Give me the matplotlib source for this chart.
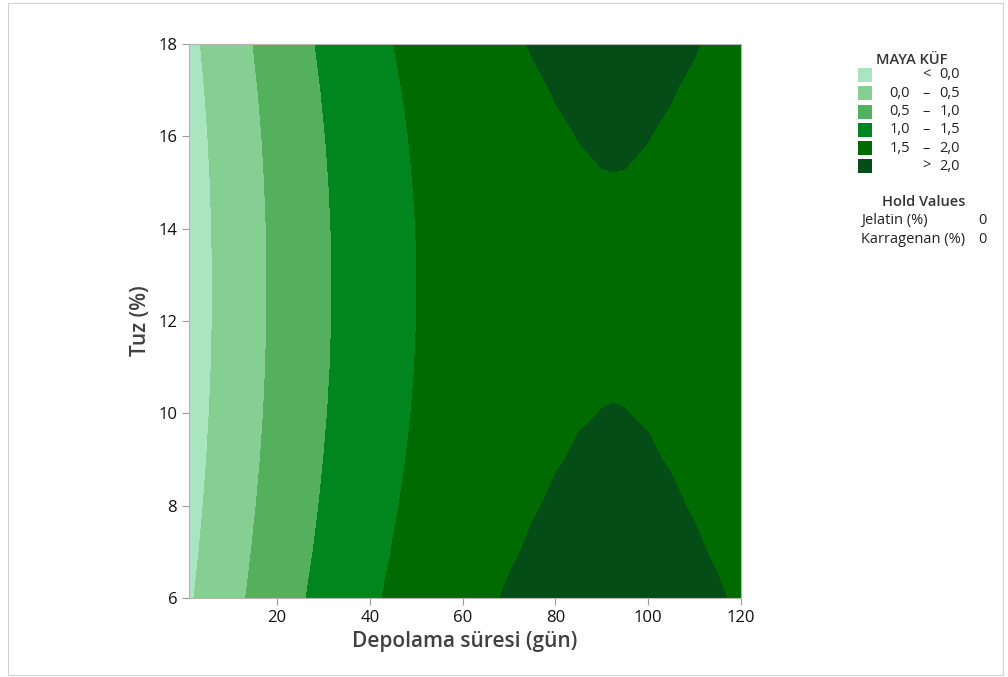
import matplotlib
matplotlib.use('Agg')
import numpy as np
import matplotlib.pyplot as plt
from matplotlib.patches import Rectangle

plt.rcParams['font.family'] = ['Open Sans', 'DejaVu Sans']

# storage time (days) and salt (%) grid, MAYA KÜF response
depolama = [0, 5, 10, 15, 20, 25, 30, 35, 40, 45, 50, 55, 60,
            65, 70, 75, 80, 85, 90, 92.5, 95, 100, 105, 110, 115, 120]
tuz = [6, 7, 8, 9, 10, 11, 12, 13, 14, 15, 16, 17, 18]
maya_kuf = [
    [-0.098, 0.139, 0.364, 0.575, 0.773, 0.957, 1.129, 1.287, 1.432, 1.564, 1.683, 1.789, 1.881,
     1.960, 2.026, 2.079, 2.118, 2.145, 2.158, 2.160, 2.158, 2.145, 2.118, 2.079, 2.026, 1.960],
    [-0.149, 0.088, 0.312, 0.524, 0.721, 0.906, 1.078, 1.236, 1.381, 1.513, 1.632, 1.737, 1.830,
     1.909, 1.975, 2.027, 2.067, 2.093, 2.107, 2.108, 2.107, 2.093, 2.067, 2.027, 1.975, 1.909],
    [-0.192, 0.045, 0.270, 0.481, 0.678, 0.863, 1.035, 1.193, 1.338, 1.470, 1.589, 1.694, 1.787,
     1.866, 1.932, 1.985, 2.024, 2.051, 2.064, 2.065, 2.064, 2.051, 2.024, 1.985, 1.932, 1.866],
    [-0.227, 0.010, 0.235, 0.446, 0.644, 0.828, 1.000, 1.158, 1.303, 1.435, 1.554, 1.660, 1.752,
     1.831, 1.897, 1.950, 1.989, 2.016, 2.029, 2.031, 2.029, 2.016, 1.989, 1.950, 1.897, 1.831],
    [-0.254, -0.016, 0.208, 0.419, 0.617, 0.802, 0.973, 1.132, 1.277, 1.409, 1.527, 1.633, 1.725,
     1.804, 1.870, 1.923, 1.963, 1.989, 2.002, 2.004, 2.002, 1.989, 1.963, 1.923, 1.870, 1.804],
    [-0.272, -0.035, 0.190, 0.401, 0.599, 0.783, 0.955, 1.113, 1.258, 1.390, 1.509, 1.615, 1.707,
     1.786, 1.852, 1.905, 1.944, 1.971, 1.984, 1.986, 1.984, 1.971, 1.944, 1.905, 1.852, 1.786],
    [-0.282, -0.045, 0.180, 0.391, 0.589, 0.773, 0.945, 1.103, 1.248, 1.380, 1.499, 1.605, 1.697,
     1.776, 1.842, 1.895, 1.934, 1.961, 1.974, 1.976, 1.974, 1.961, 1.934, 1.895, 1.842, 1.776],
    [-0.284, -0.047, 0.178, 0.389, 0.587, 0.771, 0.943, 1.101, 1.246, 1.378, 1.497, 1.603, 1.695,
     1.774, 1.840, 1.893, 1.932, 1.959, 1.972, 1.974, 1.972, 1.959, 1.932, 1.893, 1.840, 1.774],
    [-0.278, -0.040, 0.184, 0.395, 0.593, 0.778, 0.949, 1.108, 1.253, 1.385, 1.503, 1.609, 1.701,
     1.780, 1.846, 1.899, 1.939, 1.965, 1.978, 1.980, 1.978, 1.965, 1.939, 1.899, 1.846, 1.780],
    [-0.263, -0.026, 0.199, 0.410, 0.608, 0.792, 0.964, 1.122, 1.267, 1.399, 1.518, 1.624, 1.716,
     1.795, 1.861, 1.914, 1.953, 1.980, 1.993, 1.995, 1.993, 1.980, 1.953, 1.914, 1.861, 1.795],
    [-0.240, -0.003, 0.222, 0.433, 0.630, 0.815, 0.987, 1.145, 1.290, 1.422, 1.541, 1.646, 1.739,
     1.818, 1.884, 1.937, 1.976, 2.003, 2.016, 2.017, 2.016, 2.003, 1.976, 1.937, 1.884, 1.818],
    [-0.207, 0.030, 0.255, 0.466, 0.664, 0.848, 1.020, 1.178, 1.323, 1.455, 1.574, 1.680, 1.772,
     1.851, 1.917, 1.970, 2.009, 2.036, 2.049, 2.051, 2.049, 2.036, 2.009, 1.970, 1.917, 1.851],
    [-0.164, 0.073, 0.298, 0.509, 0.707, 0.891, 1.063, 1.221, 1.366, 1.498, 1.617, 1.723, 1.815,
     1.894, 1.960, 2.013, 2.052, 2.079, 2.092, 2.094, 2.092, 2.079, 2.052, 2.013, 1.960, 1.894],
]

levels = [-1.0, 0.0, 0.5, 1.0, 1.5, 2.0, 3.0]
band_colors = ['#a9e5c1', '#85cf93', '#55b05d', '#00851f', '#006b00', '#044d17']
band_lo = ['', '0,0', '0,5', '1,0', '1,5', '']
band_sep = ['<', '–', '–', '–', '–', '>']
band_hi = ['0,0', '0,5', '1,0', '1,5', '2,0', '2,0']

hold_names = ['Jelatin (%)', 'Karragenan (%)']
hold_values = ['0', '0']

fig = plt.figure(figsize=(10.08, 6.77), dpi=100)
ax = fig.add_axes([0.1875, 0.1167, 0.5476, 0.8183])

X, Y = np.meshgrid(depolama, tuz)
ax.contourf(X, Y, np.array(maya_kuf), levels=levels, colors=band_colors)

ax.set_xlim(1, 120)
ax.set_ylim(6, 18)
ax.set_xticks([20, 40, 60, 80, 100, 120])
ax.set_yticks([6, 8, 10, 12, 14, 16, 18])
ax.tick_params(colors='#9a9a9a', labelcolor='#111111', labelsize=12, length=5, width=0.8)
for sp in ax.spines.values():
    sp.set_color('#b5b5b5')
    sp.set_linewidth(0.8)
ax.set_xlabel('Depolama süresi (gün)', fontsize=15, color='#404040',
              fontweight='semibold', labelpad=4)
ax.set_ylabel('Tuz (%)', fontsize=15, color='#404040',
              fontweight='semibold', labelpad=5)

# legend drawn by hand to get the Minitab column layout
W, H = 1008.0, 677.0
fig.text(912 / W, 1 - 60 / H, 'MAYA KÜF', ha='center', va='center',
         fontsize=10.5, color='#333333', fontweight='semibold')
for i, c in enumerate(band_colors):
    yc = 1 - (75 + i * 18.3) / H
    fig.patches.append(Rectangle((858 / W, yc - 7 / H), 14 / W, 14 / H,
                                 transform=fig.transFigure, facecolor=c,
                                 edgecolor='none'))
    fig.text(910 / W, yc, band_lo[i], ha='right', va='center', fontsize=10.5, color='#222222')
    fig.text(926 / W, yc, band_sep[i], ha='center', va='center', fontsize=10.5, color='#222222')
    fig.text(960 / W, yc, band_hi[i], ha='right', va='center', fontsize=10.5, color='#222222')

fig.text(924 / W, 1 - 202 / H, 'Hold Values', ha='center', va='center',
         fontsize=10.5, color='#333333', fontweight='semibold')
for i, (name, val) in enumerate(zip(hold_names, hold_values)):
    yc = 1 - (220 + i * 19) / H
    fig.text(861 / W, yc, name, ha='left', va='center', fontsize=10.5, color='#222222')
    fig.text(987 / W, yc, val, ha='right', va='center', fontsize=10.5, color='#222222')

# thin frame around the whole graph
fig.patches.append(Rectangle((8 / W, 2 / H), 995 / W, 672 / H, transform=fig.transFigure,
                             facecolor='none', edgecolor='#d0d0d0', linewidth=0.8))

fig.savefig('out.png', dpi=100)
plt.close(fig)
